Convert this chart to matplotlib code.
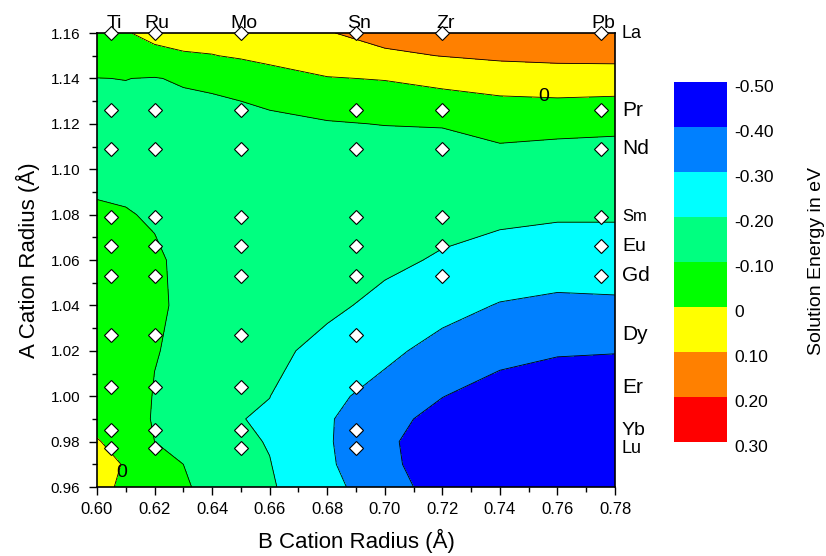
import numpy as np
import matplotlib
matplotlib.use("Agg")
import matplotlib.pyplot as plt
from matplotlib.ticker import MultipleLocator
from matplotlib.transforms import ScaledTranslation

plt.rcParams['font.family'] = ['Liberation Sans', 'DejaVu Sans']

b_names = ["Ti", "Ru", "Mo", "Sn", "Zr", "Pb"]
b_radius = [0.605, 0.62, 0.65, 0.69, 0.72, 0.775]
a_names = ["La", "Pr", "Nd", "Sm", "Eu", "Gd", "Dy", "Er", "Yb", "Lu"]
a_radius = [1.16, 1.126, 1.109, 1.079, 1.066, 1.053, 1.027, 1.004, 0.985, 0.977]
a_label_size = [13, 15, 15, 12, 14, 15, 15, 15, 14, 13]
# number of B cations (counted from Ti) computed for each A cation
n_computed = [6, 6, 6, 6, 6, 6, 4, 4, 4, 4]

# solution energy (eV), rows = A radius, cols = B radius
grid_b = [0.60, 0.61, 0.62, 0.63, 0.64, 0.65, 0.66, 0.68, 0.70, 0.72, 0.74, 0.76, 0.78]
grid_a = [0.96, 0.97, 0.98, 0.99, 1.00, 1.02, 1.04, 1.06, 1.08, 1.10, 1.12, 1.13, 1.14, 1.15, 1.16]
energy = [
    [0.03, -0.02, -0.06, -0.09, -0.125, -0.15, -0.19, -0.27, -0.36, -0.44, -0.48, -0.49, -0.495],
    [0.015, -0.003, -0.08, -0.10, -0.13, -0.16, -0.197, -0.285, -0.38, -0.445, -0.485, -0.495, -0.498],
    [0.002, -0.012, -0.10, -0.115, -0.14, -0.185, -0.205, -0.29, -0.385, -0.445, -0.485, -0.495, -0.498],
    [-0.01, -0.03, -0.112, -0.125, -0.15, -0.198, -0.21, -0.29, -0.37, -0.43, -0.47, -0.485, -0.49],
    [-0.02, -0.04, -0.106, -0.125, -0.145, -0.18, -0.199, -0.28, -0.33, -0.398, -0.44, -0.465, -0.47],
    [-0.04, -0.05, -0.095, -0.12, -0.14, -0.16, -0.175, -0.23, -0.28, -0.33, -0.37, -0.39, -0.395],
    [-0.06, -0.065, -0.09, -0.11, -0.135, -0.145, -0.16, -0.18, -0.225, -0.27, -0.305, -0.32, -0.315],
    [-0.08, -0.08, -0.093, -0.11, -0.135, -0.14, -0.15, -0.16, -0.18, -0.21, -0.24, -0.25, -0.25],
    [-0.095, -0.097, -0.105, -0.12, -0.13, -0.135, -0.145, -0.15, -0.16, -0.17, -0.18, -0.19, -0.19],
    [-0.11, -0.115, -0.125, -0.13, -0.135, -0.137, -0.14, -0.145, -0.15, -0.15, -0.14, -0.14, -0.14],
    [-0.12, -0.12, -0.125, -0.13, -0.13, -0.125, -0.115, -0.105, -0.098, -0.095, -0.07, -0.08, -0.085],
    [-0.11, -0.11, -0.115, -0.115, -0.11, -0.10, -0.09, -0.07, -0.05, -0.035, -0.015, -0.01, -0.015],
    [-0.101, -0.099, -0.104, -0.09, -0.08, -0.06, -0.03, -0.005, 0.005, 0.03, 0.05, 0.06, 0.055],
    [-0.06, -0.05, -0.02, -0.01, -0.003, 0.01, 0.02, 0.06, 0.085, 0.102, 0.115, 0.12, 0.125],
    [-0.02, -0.005, 0.02, 0.04, 0.04, 0.05, 0.06, 0.095, 0.13, 0.155, 0.17, 0.18, 0.19],
]

levels = [-0.5, -0.4, -0.3, -0.2, -0.1, 0.0, 0.1, 0.2, 0.3]
level_labels = ["-0.50", "-0.40", "-0.30", "-0.20", "-0.10", "0", "0.10", "0.20", "0.30"]
colors = ["#0000ff", "#0080ff", "#00ffff", "#00ff80", "#00ff00", "#ffff00", "#ff8000", "#ff0000"]

fig = plt.figure(figsize=(8.26, 5.56), dpi=100)
ax = fig.add_axes([0.1174, 0.1241, 0.6272, 0.8165])

X, Y = np.meshgrid(grid_b, grid_a)
Z = np.array(energy)
cf = ax.contourf(X, Y, Z, levels=levels, colors=colors)
ax.contour(X, Y, Z, levels=levels, colors="k", linewidths=0.6, linestyles="solid")

# computed compositions
for a_r, n in zip(a_radius, n_computed):
    ax.plot(b_radius[:n], [a_r] * n, linestyle="none", marker="D", markersize=7.2,
            markerfacecolor="white", markeredgecolor="black", markeredgewidth=0.8,
            clip_on=False, zorder=5)

ax.text(0.7553, 1.1319, "0", fontsize=14, ha="center", va="center")
ax.text(0.6086, 0.9666, "0", fontsize=14, ha="center", va="center")

ax.set_xlim(0.60, 0.78)
ax.set_ylim(0.96, 1.16)
ax.xaxis.set_major_locator(MultipleLocator(0.02))
ax.xaxis.set_minor_locator(MultipleLocator(0.01))
ax.yaxis.set_major_locator(MultipleLocator(0.02))
ax.yaxis.set_minor_locator(MultipleLocator(0.01))
ax.xaxis.set_major_formatter(plt.FormatStrFormatter("%.2f"))
ax.yaxis.set_major_formatter(plt.FormatStrFormatter("%.2f"))
ax.tick_params(axis="both", which="both", direction="out", top=False, right=False, width=1)
ax.tick_params(axis="both", which="major", length=6)
ax.tick_params(axis="both", which="minor", length=3.5)
ax.tick_params(axis="x", labelsize=12, pad=5)
ax.tick_params(axis="y", labelsize=11, pad=6)
for sp in ax.spines.values():
    sp.set_linewidth(1.2)

ax.set_xlabel("B Cation Radius (Å)", fontsize=16, labelpad=8)
ax.set_ylabel("A Cation Radius (Å)", fontsize=16, labelpad=8)

for name, r in zip(b_names, b_radius):
    ax.annotate(name, xy=(r, 1), xycoords=("data", "axes fraction"), xytext=(2, 3.5),
                textcoords="offset points", ha="center", va="baseline", fontsize=14)
for name, r, fs in zip(a_names, a_radius, a_label_size):
    ax.annotate(name, xy=(1, r), xycoords=("axes fraction", "data"), xytext=(5, 0),
                textcoords="offset points", ha="left", va="center", fontsize=fs)

# colour scale, most negative on top
cax = fig.add_axes([0.816, 0.205, 0.0642, 0.6475])
cbar = fig.colorbar(cf, cax=cax)
cax.invert_yaxis()
cbar.outline.set_visible(False)
cbar.set_ticks(levels)
cbar.set_ticklabels(level_labels)
cax.tick_params(length=0, labelsize=12.5, pad=5)
shift = ScaledTranslation(0, -0.04, fig.dpi_scale_trans)
for lab in cax.get_yticklabels():
    lab.set_transform(lab.get_transform() + shift)
fig.text(0.989, 0.53, "Solution Energy in eV", rotation=90, fontsize=14,
         ha="center", va="center")

fig.savefig("out.png", dpi=100)
